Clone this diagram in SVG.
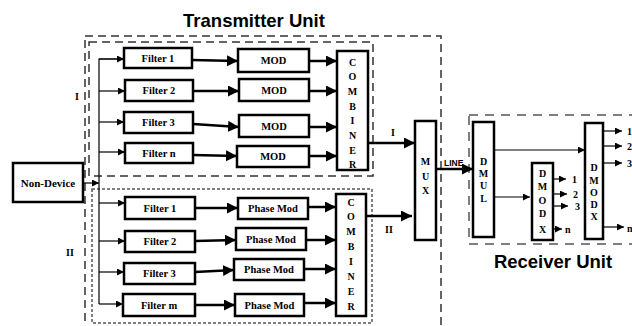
<svg xmlns="http://www.w3.org/2000/svg" width="632" height="326" viewBox="0 0 632 326">
<defs>
<marker id="big" markerUnits="userSpaceOnUse" markerWidth="12" markerHeight="12" refX="11" refY="5.5" orient="auto"><path d="M0,0 L11,5.5 L0,11 z" fill="#000"/></marker>
<marker id="sm" markerUnits="userSpaceOnUse" markerWidth="8" markerHeight="8" refX="7" refY="3.5" orient="auto"><path d="M0,0 L7,3.5 L0,7 z" fill="#000"/></marker>
<style>
.box{fill:#fff;stroke:#000;stroke-width:2.5}
.t{font-family:"Liberation Serif",serif;font-weight:bold;font-size:10.5px;text-anchor:middle;dominant-baseline:central;fill:#000}
.l{font-family:"Liberation Serif",serif;font-weight:bold;font-size:10px;text-anchor:middle;dominant-baseline:central;fill:#000}
.o{font-family:"Liberation Serif",serif;font-weight:bold;font-size:10px;dominant-baseline:central;fill:#000}
.title{font-family:"Liberation Sans",Arial,sans-serif;font-weight:bold;font-size:18.5px;text-anchor:middle;fill:#000}
.thick{stroke:#000;stroke-width:2.5;fill:none;marker-end:url(#big)}
.thin{stroke:#000;stroke-width:1.2;fill:none;marker-end:url(#sm)}
.bus{stroke:#000;stroke-width:1.2;fill:none}
.dash{fill:none;stroke:#333;stroke-width:1.5;stroke-dasharray:8 5}
.dot{fill:none;stroke:#555;stroke-width:1.5;stroke-dasharray:3 2}
.rdash{fill:none;stroke:#555;stroke-width:1.5;stroke-dasharray:9 7}
</style>
</defs>

<g id="frames">
<rect class="dash" x="85" y="36" width="356" height="300"/>
<rect class="dash" x="89" y="42" width="284" height="134"/>
<rect class="dot" x="92" y="189" width="280" height="134"/>
<rect class="rdash" x="469" y="115" width="180" height="129"/>
<text class="title" x="254" y="27">Transmitter Unit</text>
<text class="title" x="553" y="268">Receiver Unit</text>
<text class="l" x="77" y="96">I</text>
<text class="l" x="70" y="252">II</text>
</g>

<g id="connectors">
<line class="thin" x1="83" y1="183" x2="99" y2="183"/>
<polyline class="bus" points="124,59 99,59 99,304"/>
<line class="thin" x1="99" y1="59" x2="124" y2="59"/>
<line class="thin" x1="99" y1="91" x2="125" y2="91"/>
<line class="thin" x1="99" y1="122" x2="124" y2="122"/>
<line class="thin" x1="99" y1="152" x2="125" y2="152"/>
<line class="thin" x1="99" y1="203" x2="125" y2="203"/>
<line class="thin" x1="99" y1="241" x2="125" y2="241"/>
<line class="thin" x1="99" y1="272" x2="124" y2="272"/>
<line class="thin" x1="99" y1="304" x2="123" y2="304"/>

<line class="thick" x1="192" y1="60" x2="238" y2="61"/>
<line class="thick" x1="193" y1="91" x2="239" y2="91"/>
<line class="thick" x1="193" y1="124" x2="239" y2="127"/>
<line class="thick" x1="193" y1="155" x2="237" y2="156"/>
<line class="thick" x1="309" y1="61" x2="337" y2="61"/>
<line class="thick" x1="309" y1="91" x2="337" y2="91"/>
<line class="thick" x1="309" y1="127" x2="337" y2="127"/>
<line class="thick" x1="309" y1="156" x2="337" y2="156"/>

<line class="thick" x1="195" y1="208" x2="238" y2="208"/>
<line class="thick" x1="195" y1="241" x2="236" y2="240"/>
<line class="thick" x1="195" y1="272" x2="234" y2="270"/>
<line class="thick" x1="195" y1="305" x2="235" y2="305"/>
<line class="thick" x1="308" y1="207" x2="336" y2="207"/>
<line class="thick" x1="306" y1="240" x2="336" y2="240"/>
<line class="thick" x1="304" y1="269" x2="336" y2="269"/>
<line class="thick" x1="304" y1="303" x2="336" y2="303"/>

<line class="thick" x1="368" y1="143" x2="415" y2="143"/>
<line class="thick" x1="366" y1="216" x2="412" y2="216"/>
<line class="thick" x1="436" y1="169" x2="473" y2="169"/>

<line class="thin" x1="494" y1="150" x2="585" y2="150"/>
<line class="thin" x1="494" y1="197" x2="530" y2="197"/>
<line class="thin" x1="553" y1="179" x2="566" y2="179"/>
<line class="thin" x1="553" y1="194" x2="567" y2="194"/>
<line class="thin" x1="553" y1="206" x2="568" y2="206"/>
<line class="thin" x1="553" y1="229" x2="562" y2="229"/>
<line class="thin" x1="603" y1="131" x2="622" y2="131"/>
<line class="thin" x1="603" y1="146" x2="622" y2="146"/>
<line class="thin" x1="600" y1="163" x2="622" y2="163"/>
<line class="thin" x1="600" y1="227" x2="624" y2="227"/>
</g>

<g id="labels">
<text class="l" x="393" y="132">I</text>
<text class="l" x="389" y="229">II</text>
<text x="444" y="166" style="font-family:'Liberation Sans',Arial,sans-serif;font-weight:bold;font-size:8.5px;fill:#000">LINE</text>
<text class="o" x="572" y="179">1</text>
<text class="o" x="573" y="194">2</text>
<text class="o" x="575" y="206">3</text>
<text class="o" x="565" y="229">n</text>
<text class="o" x="627" y="131">1</text>
<text class="o" x="627" y="146">2</text>
<text class="o" x="627" y="163">3</text>
<text class="o" x="627" y="228">n</text>
</g>

<g id="non-device"><rect class="box" x="13" y="163" width="70" height="39"/><text class="t" x="48" y="182.5" style="font-size:11px">Non-Device</text></g>

<g id="filter-i1"><rect class="box" x="124" y="48" width="68" height="20"/><text class="t" x="158" y="58">Filter 1</text></g>
<g id="filter-i2"><rect class="box" x="125" y="80" width="68" height="21"/><text class="t" x="159" y="90.5">Filter 2</text></g>
<g id="filter-i3"><rect class="box" x="124" y="112" width="69" height="21"/><text class="t" x="158.5" y="122.5">Filter 3</text></g>
<g id="filter-in"><rect class="box" x="125" y="143" width="68" height="20"/><text class="t" x="159" y="153">Filter n</text></g>

<g id="mod-1"><rect class="box" x="238" y="49" width="71" height="23"/><text class="t" x="273.5" y="60.5">MOD</text></g>
<g id="mod-2"><rect class="box" x="239" y="79" width="70" height="22"/><text class="t" x="274" y="90">MOD</text></g>
<g id="mod-3"><rect class="box" x="239" y="115" width="70" height="22"/><text class="t" x="274" y="126">MOD</text></g>
<g id="mod-4"><rect class="box" x="237" y="146" width="72" height="21"/><text class="t" x="273" y="156.5">MOD</text></g>

<g id="combiner-i"><rect class="box" x="337" y="51" width="31" height="119"/>
<text class="l" x="352.5" y="62">C</text><text class="l" x="352.5" y="76.7">O</text><text class="l" x="352.5" y="91.4">M</text><text class="l" x="352.5" y="106">B</text><text class="l" x="352.5" y="120.8">I</text><text class="l" x="352.5" y="135.5">N</text><text class="l" x="352.5" y="150">E</text><text class="l" x="352.5" y="164.5">R</text></g>

<g id="filter-ii1"><rect class="box" x="125" y="197" width="70" height="22"/><text class="t" x="160" y="208">Filter 1</text></g>
<g id="filter-ii2"><rect class="box" x="125" y="231" width="70" height="21"/><text class="t" x="160" y="241.5">Filter 2</text></g>
<g id="filter-ii3"><rect class="box" x="124" y="263" width="71" height="21"/><text class="t" x="159.5" y="273.5">Filter 3</text></g>
<g id="filter-iim"><rect class="box" x="123" y="294" width="72" height="22"/><text class="t" x="159" y="305">Filter m</text></g>

<g id="pm-1"><rect class="box" x="238" y="198" width="70" height="21"/><text class="t" x="273" y="208.5">Phase Mod</text></g>
<g id="pm-2"><rect class="box" x="236" y="228" width="70" height="22"/><text class="t" x="271" y="239">Phase Mod</text></g>
<g id="pm-3"><rect class="box" x="234" y="259" width="70" height="21"/><text class="t" x="269" y="269.5">Phase Mod</text></g>
<g id="pm-4"><rect class="box" x="235" y="294" width="69" height="22"/><text class="t" x="269.5" y="305">Phase Mod</text></g>

<g id="combiner-ii"><rect class="box" x="336" y="194" width="30" height="122"/>
<text class="l" x="351" y="202">C</text><text class="l" x="351" y="216.9">O</text><text class="l" x="351" y="231.7">M</text><text class="l" x="351" y="246.6">B</text><text class="l" x="351" y="261.4">I</text><text class="l" x="351" y="276.3">N</text><text class="l" x="351" y="291.1">E</text><text class="l" x="351" y="306">R</text></g>

<g id="mux"><rect class="box" x="415" y="121" width="21" height="119"/>
<text class="l" x="425.5" y="161">M</text><text class="l" x="425.5" y="176">U</text><text class="l" x="425.5" y="190">X</text></g>

<g id="dmul"><rect class="box" x="473" y="122" width="21" height="115"/>
<text class="l" x="483.5" y="161">D</text><text class="l" x="483.5" y="173">M</text><text class="l" x="483.5" y="185.5">U</text><text class="l" x="483.5" y="198">L</text></g>

<g id="dmodx-small"><rect class="box" x="532" y="163" width="21" height="77"/>
<text class="l" x="542.5" y="173">D</text><text class="l" x="542.5" y="186.5">M</text><text class="l" x="542.5" y="200">O</text><text class="l" x="542.5" y="213.5">D</text><text class="l" x="542.5" y="229">X</text></g>

<g id="dmodx-right"><rect class="box" x="585" y="123" width="18" height="116"/>
<text class="l" x="594" y="167">D</text><text class="l" x="594" y="180">M</text><text class="l" x="594" y="192">O</text><text class="l" x="594" y="204">D</text><text class="l" x="594" y="216">X</text></g>
</svg>
